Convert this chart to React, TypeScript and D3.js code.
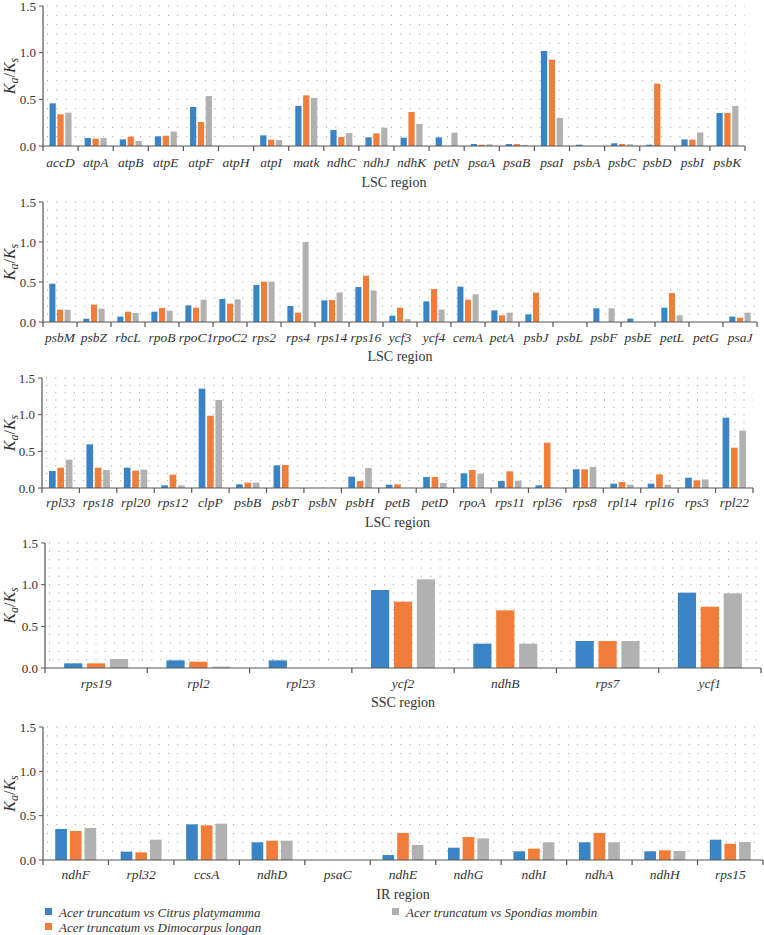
import React from "react";
import * as d3 from "d3";

const SERIES = [
  "Acer truncatum vs Citrus platymamma",
  "Acer truncatum vs Dimocarpus longan",
  "Acer truncatum vs Spondias mombin",
];
const COLORS = ["#3a84c5", "#f07e3a", "#b1b1b1"];
const Y_TICKS = [0, 0.5, 1.0, 1.5];

// Panel 1 – LSC
const genes1 = ["accD","atpA","atpB","atpE","atpF","atpH","atpI","matk","ndhC","ndhJ","ndhK","petN","psaA","psaB","psaI","psbA","psbC","psbD","psbI","psbK"];
const citrus1 = [0.457,0.086,0.071,0.104,0.418,0,0.114,0.43,0.171,0.093,0.089,0.093,0.021,0.021,1.018,0.014,0.029,0.014,0.071,0.354];
const dimo1 = [0.34,0.079,0.1,0.11,0.257,0,0.068,0.543,0.096,0.136,0.364,0,0.014,0.021,0.925,0,0.021,0.668,0.068,0.354];
const spond1 = [0.357,0.086,0.054,0.154,0.536,0,0.064,0.514,0.139,0.196,0.236,0.143,0.018,0.011,0.3,0,0.018,0,0.146,0.43];

// Panel 2 – LSC
const genes2 = ["psbM","psbZ","rbcL","rpoB","rpoC1","rpoC2","rps2","rps4","rps14","rps16","ycf3","ycf4","cemA","petA","psbJ","psbL","psbF","psbE","petL","petG","psaJ"];
const citrus2 = [0.479,0.042,0.067,0.129,0.208,0.288,0.462,0.2,0.27,0.437,0.079,0.258,0.442,0.146,0.096,0,0.171,0.042,0.179,0,0.067];
const dimo2 = [0.154,0.217,0.129,0.175,0.179,0.229,0.504,0.117,0.275,0.579,0.179,0.412,0.279,0.083,0.367,0,0,0,0.362,0,0.054];
const spond2 = [0.154,0.167,0.113,0.142,0.279,0.283,0.504,1.0,0.37,0.392,0.037,0.154,0.346,0.117,0,0,0.171,0,0.083,0,0.117];

// Panel 3 – LSC
const genes3 = ["rpl33","rps18","rpl20","rps12","clpP","psbB","psbT","psbN","psbH","petB","petD","rpoA","rps11","rpl36","rps8","rpl14","rpl16","rps3","rpl22"];
const citrus3 = [0.232,0.595,0.277,0.036,1.355,0.05,0.309,0,0.155,0.045,0.15,0.2,0.095,0.036,0.255,0.059,0.059,0.141,0.959];
const dimo3 = [0.277,0.277,0.236,0.182,0.986,0.073,0.314,0,0.095,0.05,0.15,0.245,0.227,0.618,0.255,0.082,0.186,0.105,0.55];
const spond3 = [0.386,0.245,0.25,0.036,1.2,0.073,0,0,0.273,0,0.068,0.195,0.1,0,0.286,0.045,0.045,0.118,0.782];

// Panel 4 – SSC
const genes4 = ["rps19","rpl2","rpl23","ycf2","ndhB","rps7","ycf1"];
const citrus4 = [0.056,0.092,0.092,0.936,0.292,0.324,0.904];
const dimo4 = [0.056,0.076,0,0.796,0.692,0.324,0.736];
const spond4 = [0.108,0.016,0,1.064,0.292,0.324,0.896];

// Panel 5 – IR
const genes5 = ["ndhF","rpl32","ccsA","ndhD","psaC","ndhE","ndhG","ndhI","ndhA","ndhH","rps15"];
const citrus5 = [0.35,0.094,0.402,0.2,0,0.056,0.139,0.098,0.2,0.098,0.229];
const dimo5 = [0.327,0.086,0.391,0.218,0,0.305,0.259,0.128,0.305,0.109,0.184];
const spond5 = [0.361,0.229,0.41,0.218,0,0.169,0.244,0.2,0.2,0.102,0.203];

const TITLES = ["LSC region", "LSC region", "LSC region", "SSC region", "IR region"];

const panels = [
  { genes: genes1, vals: [citrus1, dimo1, spond1], title: TITLES[0], x0: 43, x1: 745, yTop: 6, yZero: 146, labY: 167, titleY: 187 },
  { genes: genes2, vals: [citrus2, dimo2, spond2], title: TITLES[1], x0: 43, x1: 757, yTop: 202, yZero: 322, labY: 342, titleY: 361 },
  { genes: genes3, vals: [citrus3, dimo3, spond3], title: TITLES[2], x0: 42, x1: 753, yTop: 378, yZero: 488, labY: 507, titleY: 527 },
  { genes: genes4, vals: [citrus4, dimo4, spond4], title: TITLES[3], x0: 45, x1: 761, yTop: 543, yZero: 668, labY: 688, titleY: 707 },
  { genes: genes5, vals: [citrus5, dimo5, spond5], title: TITLES[4], x0: 43, x1: 763, yTop: 727, yZero: 860, labY: 879, titleY: 899 },
];

const FONT = '"Liberation Serif", "Times New Roman", Times, serif';
const AXIS = "#555";
const TXT = { fontFamily: FONT } as React.CSSProperties;

function Panel({ p }: { p: any }) {
  const x = d3.scaleBand<string>().domain(p.genes).range([p.x0, p.x1]).paddingInner(0).paddingOuter(0);
  const y = d3.scaleLinear().domain([0, 1.5]).range([p.yZero, p.yTop]);
  const band = x.bandwidth();
  const bw = band * 0.178;
  const gap = band * 0.046;
  const groupW = bw * 3 + gap * 2;
  const grid = d3.range(1, 16).map((i) => i / 10);
  const boundaries = p.genes.map((g: string) => x(g) as number).concat([p.x1]);
  const midY = (p.yTop + p.yZero) / 2;
  return (
    <g>
      {grid.map((v: number) => (
        <line key={"g" + v} x1={p.x0 + 4} x2={p.x1} y1={y(v)} y2={y(v)} stroke="#9a9a9a" strokeWidth={1} strokeDasharray="1,8.3" />
      ))}
      {p.genes.map((g: string, i: number) => {
        const start = (x(g) as number) + band / 2 - groupW / 2;
        return p.vals.map((arr: number[], s: number) => {
          const v = arr[i];
          if (!v) return null;
          return (
            <rect key={g + s} x={start + s * (bw + gap)} y={y(v)} width={bw} height={p.yZero - y(v)} fill={COLORS[s]} />
          );
        });
      })}
      <line x1={p.x0} x2={p.x0} y1={p.yTop} y2={p.yZero} stroke={AXIS} strokeWidth={1.2} />
      <line x1={p.x0} x2={p.x1} y1={p.yZero} y2={p.yZero} stroke={AXIS} strokeWidth={1.2} />
      {Y_TICKS.map((t) => (
        <g key={"t" + t}>
          <line x1={p.x0 - 4} x2={p.x0} y1={y(t)} y2={y(t)} stroke={AXIS} />
          <text x={p.x0 - 7} y={y(t)} dy="0.35em" textAnchor="end" style={TXT} fontSize={13} fill="#333">
            {t.toFixed(1)}
          </text>
        </g>
      ))}
      {boundaries.map((b: number, i: number) => (
        <line key={"b" + i} x1={b} x2={b} y1={p.yZero} y2={p.yZero + 5} stroke={AXIS} strokeWidth={1.2} />
      ))}
      {p.genes.map((g: string) => (
        <text key={"l" + g} x={(x(g) as number) + band / 2} y={p.labY} textAnchor="middle" style={TXT} fontStyle="italic" fontSize={13.5} fill="#333">
          {g}
        </text>
      ))}
      <text x={(p.x0 + p.x1) / 2} y={p.titleY} textAnchor="middle" style={TXT} fontSize={14} fill="#333">
        {p.title}
      </text>
      <text transform={`translate(15,${midY}) rotate(-90)`} textAnchor="middle" style={TXT} fontSize={16} fill="#333">
        <tspan fontStyle="italic">K</tspan>
        <tspan fontStyle="italic" fontSize={12} dy="3">a</tspan>
        <tspan dy="-3">/</tspan>
        <tspan fontStyle="italic">K</tspan>
        <tspan fontStyle="italic" fontSize={12} dy="3">s</tspan>
      </text>
    </g>
  );
}

export default function App() {
  const legendPos = [
    { x: 45, y: 912 },
    { x: 45, y: 927 },
    { x: 392, y: 912 },
  ];
  return (
    <svg width={764} height={935} style={{ position: "absolute", left: 0, top: 0, background: "#fff" }}>
      <rect width={764} height={935} fill="#fff" />
      {panels.map((p, i) => (
        <Panel key={i} p={p} />
      ))}
      {SERIES.map((s, i) => (
        <g key={s}>
          <rect x={legendPos[i].x} y={legendPos[i].y - 4} width={7} height={7} fill={COLORS[i]} />
          <text x={legendPos[i].x + 14} y={legendPos[i].y} dy="0.35em" style={TXT} fontStyle="italic" fontSize={13} fill="#333">
            {s}
          </text>
        </g>
      ))}
    </svg>
  );
}
